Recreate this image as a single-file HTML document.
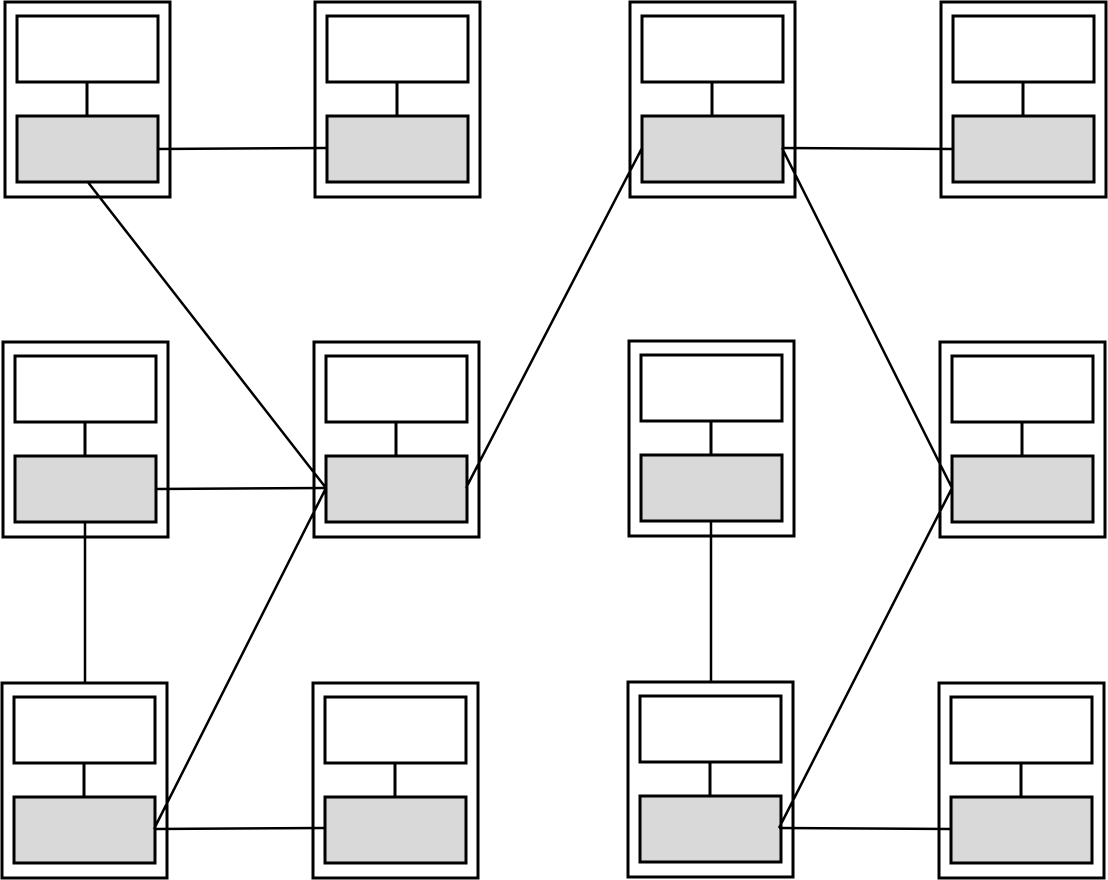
<!DOCTYPE html>
<html><head><meta charset="utf-8"><style>html,body{margin:0;padding:0;background:#fff}svg{display:block}</style></head>
<body>
<svg width="1108" height="880" viewBox="0 0 1108 880" xmlns="http://www.w3.org/2000/svg">
<defs>
<g id="n">
<rect x="0" y="0" width="165" height="195" fill="#fff" stroke="#000" stroke-width="3"/>
<rect x="12" y="14" width="141" height="66" fill="#fff" stroke="#000" stroke-width="3"/>
<line x1="82" y1="80" x2="82" y2="114" stroke="#000" stroke-width="3"/>
<rect x="12" y="114" width="141" height="66" fill="#d9d9d9" stroke="#000" stroke-width="3"/>
</g>
</defs>
<use href="#n" x="5" y="2"/>
<use href="#n" x="315" y="2"/>
<use href="#n" x="630" y="2"/>
<use href="#n" x="941" y="2"/>
<use href="#n" x="3" y="342"/>
<use href="#n" x="314" y="342"/>
<use href="#n" x="629" y="341"/>
<use href="#n" x="940" y="342"/>
<use href="#n" x="2" y="683"/>
<use href="#n" x="313" y="683"/>
<use href="#n" x="628" y="682"/>
<use href="#n" x="939" y="683"/>
<g stroke="#000" stroke-width="2.5" fill="none">
<line x1="157" y1="149" x2="327" y2="148"/>
<line x1="87" y1="181" x2="326" y2="488"/>
<line x1="156" y1="489" x2="326" y2="488"/>
<line x1="85" y1="522" x2="85" y2="683"/>
<line x1="154" y1="829" x2="326" y2="488"/>
<line x1="154" y1="829" x2="325" y2="828"/>
<line x1="466" y1="488" x2="642" y2="148"/>
<line x1="782" y1="148" x2="953" y2="149"/>
<line x1="782" y1="148" x2="952" y2="488"/>
<line x1="711" y1="521" x2="711" y2="682"/>
<line x1="779" y1="828" x2="952" y2="488"/>
<line x1="779" y1="828" x2="951" y2="829"/>
</g>
</svg>
</body></html>
